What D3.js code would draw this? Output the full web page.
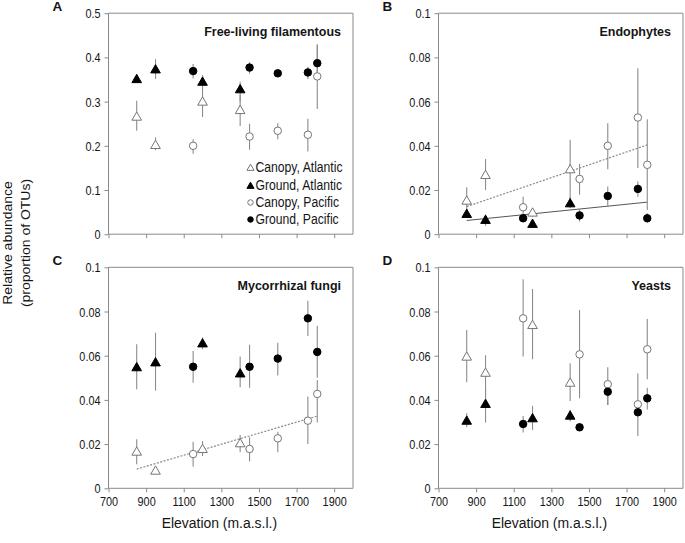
<!DOCTYPE html>
<html>
<head>
<meta charset="utf-8">
<script src="https://cdn.jsdelivr.net/npm/d3@7"></script>
<style>
  html, body { margin: 0; padding: 0; background: #fff; }
  svg text { font-family: "Liberation Sans", Arial, Helvetica, sans-serif; }
</style>
</head>
<body>
<svg id="chart" width="685" height="543"></svg>
<script>
// ---------- data ----------
const elevAtlantic = [850, 950, 1200, 1400];
const elevPacific = [1150, 1450, 1600, 1760, 1810];
const xTicks = [700, 900, 1100, 1300, 1500, 1700, 1900];

// Panel A: Free-living filamentous
const A_canopyAtl = [0.266, 0.202, 0.300, 0.281];
const A_canopyAtlHi = [0.302, 0.219, 0.332, 0.315];
const A_canopyAtlLo = [0.234, 0.190, 0.265, 0.245];
const A_groundAtl = [0.351, 0.373, 0.345, 0.328];
const A_groundAtlHi = [0.358, 0.396, 0.360, 0.345];
const A_groundAtlLo = [0.345, 0.351, 0.330, 0.300];
const A_canopyPac = [0.200, 0.221, 0.234, 0.225, 0.357];
const A_canopyPacHi = [0.215, 0.250, 0.251, 0.261, 0.430];
const A_canopyPacLo = [0.182, 0.191, 0.215, 0.187, 0.283];
const A_groundPac = [0.369, 0.377, 0.364, 0.366, 0.387];
const A_groundPacHi = [0.385, 0.389, 0.370, 0.379, 0.428];
const A_groundPacLo = [0.352, 0.363, 0.358, 0.351, 0.350];

// Panel B: Endophytes
const B_canopyAtl = [0.0152, 0.0268, 0.0098, 0.0294];
const B_canopyAtlHi = [0.0213, 0.0340, 0.0118, 0.0427];
const B_canopyAtlLo = [0.0095, 0.0200, 0.0080, 0.0158];
const B_groundAtl = [0.0092, 0.0065, 0.0047, 0.0140];
const B_groundAtlHi = [0.0115, 0.0090, 0.0068, 0.0167];
const B_groundAtlLo = [0.0075, 0.0038, 0.0030, 0.0118];
const B_canopyPac = [0.0122, 0.0250, 0.0400, 0.0528, 0.0314];
const B_canopyPacHi = [0.0170, 0.0318, 0.0502, 0.0751, 0.0520];
const B_canopyPacLo = [0.0072, 0.0178, 0.0294, 0.0299, 0.0110];
const B_groundPac = [0.0072, 0.0085, 0.0173, 0.0205, 0.0072];
const B_groundPacHi = [0.0082, 0.0113, 0.0216, 0.0238, 0.0095];
const B_groundPacLo = [0.0060, 0.0057, 0.0125, 0.0170, 0.0053];
const B_fitCanopy = [[850, 0.0125], [1810, 0.0404]];
const B_fitGround = [[850, 0.0062], [1810, 0.0145]];

// Panel C: Mycorrhizal fungi
const C_canopyAtl = [0.0166, 0.0080, 0.0178, 0.0204];
const C_canopyAtlHi = [0.0222, 0.0090, 0.0214, 0.0241];
const C_canopyAtlLo = [0.0109, 0.0070, 0.0146, 0.0163];
const C_groundAtl = [0.0548, 0.0570, 0.0656, 0.0520];
const C_groundAtlHi = [0.0652, 0.0704, 0.0683, 0.0596];
const C_groundAtlLo = [0.0448, 0.0442, 0.0629, 0.0457];
const C_canopyPac = [0.0155, 0.0178, 0.0226, 0.0306, 0.0427];
const C_canopyPacHi = [0.0211, 0.0231, 0.0256, 0.0415, 0.0490];
const C_canopyPacLo = [0.0098, 0.0121, 0.0163, 0.0201, 0.0298];
const C_groundPac = [0.0550, 0.0550, 0.0587, 0.0769, 0.0617];
const C_groundPacHi = [0.0621, 0.0649, 0.0659, 0.0849, 0.0735];
const C_groundPacLo = [0.0478, 0.0455, 0.0510, 0.0689, 0.0500];
const C_fitCanopy = [[850, 0.0087], [1810, 0.0327]];

// Panel D: Yeasts
const D_canopyAtl = [0.0596, 0.0523, 0.0739, 0.0478];
const D_canopyAtlHi = [0.0716, 0.0602, 0.0902, 0.0566];
const D_canopyAtlLo = [0.0480, 0.0392, 0.0584, 0.0395];
const D_groundAtl = [0.0306, 0.0382, 0.0317, 0.0329];
const D_groundAtlHi = [0.0340, 0.0460, 0.0373, 0.0354];
const D_groundAtlLo = [0.0276, 0.0297, 0.0264, 0.0302];
const D_canopyPac = [0.0769, 0.0606, 0.0471, 0.0380, 0.0629];
const D_canopyPacHi = [0.0946, 0.0807, 0.0548, 0.0520, 0.0766];
const D_canopyPacLo = [0.0596, 0.0407, 0.0377, 0.0340, 0.0493];
const D_groundPac = [0.0291, 0.0276, 0.0437, 0.0344, 0.0407];
const D_groundPacHi = [0.0327, 0.0285, 0.0468, 0.0400, 0.0455];
const D_groundPacLo = [0.0252, 0.0268, 0.0377, 0.0237, 0.0357];

const legendLabels = ["Canopy, Atlantic", "Ground, Atlantic", "Canopy, Pacific", "Ground, Pacific"];

// ---------- build ----------
function series(elev, v, hi, lo) { return elev.map((e, i) => ({ x: e, y: v[i], hi: hi[i], lo: lo[i] })); }
const fmt01 = d => d === 0 ? "0" : (d === 0.1 ? "0.1" : d3.format(".2f")(d));

const panels = [
  { letter: "A", title: "Free-living filamentous", yMax: 0.5, yTicks: [0, 0.1, 0.2, 0.3, 0.4, 0.5], fmt: d => d === 0 ? "0" : d3.format(".1f")(d),
    x0: 108.5, x1: 353, y0: 234.2, y1: 13.2, xLabels: false, legend: true,
    canopyAtl: series(elevAtlantic, A_canopyAtl, A_canopyAtlHi, A_canopyAtlLo),
    groundAtl: series(elevAtlantic, A_groundAtl, A_groundAtlHi, A_groundAtlLo),
    canopyPac: series(elevPacific, A_canopyPac, A_canopyPacHi, A_canopyPacLo),
    groundPac: series(elevPacific, A_groundPac, A_groundPacHi, A_groundPacLo), fits: [] },
  { letter: "B", title: "Endophytes", yMax: 0.1, yTicks: [0, 0.02, 0.04, 0.06, 0.08, 0.1], fmt: fmt01,
    x0: 438.5, x1: 683, y0: 234.2, y1: 13.2, xLabels: false, legend: false,
    canopyAtl: series(elevAtlantic, B_canopyAtl, B_canopyAtlHi, B_canopyAtlLo),
    groundAtl: series(elevAtlantic, B_groundAtl, B_groundAtlHi, B_groundAtlLo),
    canopyPac: series(elevPacific, B_canopyPac, B_canopyPacHi, B_canopyPacLo),
    groundPac: series(elevPacific, B_groundPac, B_groundPacHi, B_groundPacLo),
    fits: [{ pts: B_fitCanopy, dashed: true }, { pts: B_fitGround, dashed: false }] },
  { letter: "C", title: "Mycorrhizal fungi", yMax: 0.1, yTicks: [0, 0.02, 0.04, 0.06, 0.08, 0.1], fmt: fmt01,
    x0: 108.5, x1: 353, y0: 488.3, y1: 267.3, xLabels: true, legend: false,
    canopyAtl: series(elevAtlantic, C_canopyAtl, C_canopyAtlHi, C_canopyAtlLo),
    groundAtl: series(elevAtlantic, C_groundAtl, C_groundAtlHi, C_groundAtlLo),
    canopyPac: series(elevPacific, C_canopyPac, C_canopyPacHi, C_canopyPacLo),
    groundPac: series(elevPacific, C_groundPac, C_groundPacHi, C_groundPacLo),
    fits: [{ pts: C_fitCanopy, dashed: true }] },
  { letter: "D", title: "Yeasts", yMax: 0.1, yTicks: [0, 0.02, 0.04, 0.06, 0.08, 0.1], fmt: fmt01,
    x0: 438.5, x1: 683, y0: 488.3, y1: 267.3, xLabels: true, legend: false,
    canopyAtl: series(elevAtlantic, D_canopyAtl, D_canopyAtlHi, D_canopyAtlLo),
    groundAtl: series(elevAtlantic, D_groundAtl, D_groundAtlHi, D_groundAtlLo),
    canopyPac: series(elevPacific, D_canopyPac, D_canopyPacHi, D_canopyPacLo),
    groundPac: series(elevPacific, D_groundPac, D_groundPacHi, D_groundPacLo), fits: [] }
];

const svg = d3.select("#chart");
const frameColor = "#8a8a8a";
const barColor = "#8c8c8c";
const openStroke = "#767676";
const txtColor = "#151515";
const triSym = d3.symbol().type(d3.symbolTriangle);
const cirSym = d3.symbol().type(d3.symbolCircle);
const SX = 0.87; // horizontal condensation of the reference's type

// place a horizontally condensed text at (x,y)
function ctext(g, x, y, str, size, opts = {}) {
  const sx = opts.sx || SX;
  return g.append("text")
    .attr("transform", `translate(${x},${y}) scale(${sx},1)`)
    .attr("text-anchor", opts.anchor || "start")
    .attr("font-size", size)
    .attr("font-weight", opts.bold ? "bold" : null)
    .attr("fill", txtColor)
    .text(str);
}

function drawMarker(g, kind, filled, cx, cy, size) {
  const sym = kind === "tri" ? triSym.size(size) : cirSym.size(size);
  g.append("path")
    .attr("d", sym())
    .attr("transform", `translate(${cx},${cy + (kind === "tri" ? 0.8 : 0)})`)
    .attr("fill", filled ? "#000" : "#fff")
    .attr("stroke", filled ? "#000" : openStroke)
    .attr("stroke-width", 1);
}

panels.forEach(p => {
  const x = d3.scaleLinear().domain([700, 2000]).range([p.x0, p.x1]);
  const y = d3.scaleLinear().domain([0, p.yMax]).range([p.y0, p.y1]);
  const g = svg.append("g");

  // frame top & right
  g.append("line").attr("x1", p.x0).attr("x2", p.x1).attr("y1", p.y1).attr("y2", p.y1).attr("stroke", frameColor);
  g.append("line").attr("x1", p.x1).attr("x2", p.x1).attr("y1", p.y1).attr("y2", p.y0).attr("stroke", frameColor);

  // axes (ticks via d3 axes; labels condensed)
  const xAxis = d3.axisBottom(x).tickValues(xTicks).tickSize(4).tickFormat("");
  const gx = g.append("g").attr("transform", `translate(0,${p.y0})`).call(xAxis);
  gx.select(".domain").attr("stroke", frameColor).attr("d", `M${p.x0},0H${p.x1}`);
  gx.selectAll(".tick line").attr("stroke", frameColor);
  if (p.xLabels) {
    gx.selectAll(".tick").each(function(d) {
      ctext(d3.select(this), 0, 18, d3.format("d")(d), 12.5, { anchor: "middle" });
    });
  }

  const yAxis = d3.axisLeft(y).tickValues(p.yTicks).tickSize(4).tickFormat("");
  const gy = g.append("g").attr("transform", `translate(${p.x0},0)`).call(yAxis);
  gy.select(".domain").attr("stroke", frameColor).attr("d", `M0,${p.y0}V${p.y1}`);
  gy.selectAll(".tick line").attr("stroke", frameColor);
  gy.selectAll(".tick").each(function(d) {
    ctext(d3.select(this), -8, 4.5, p.fmt(d), 12.5, { anchor: "end" });
  });

  // letter & title
  ctext(g, p.x0 - 56, p.y1 - 2, p.letter, 13.5, { bold: true, sx: 1 });
  ctext(g, p.x1 - 12, p.y1 + 23, p.title, 12.5, { bold: true, anchor: "end", sx: 1 });

  // fits
  p.fits.forEach(f => {
    g.append("path")
      .attr("d", d3.line().x(d => x(d[0])).y(d => y(d[1]))(f.pts))
      .attr("fill", "none")
      .attr("stroke", f.dashed ? "#8a8a8a" : "#555")
      .attr("stroke-width", f.dashed ? 1.2 : 1)
      .attr("stroke-dasharray", f.dashed ? "2,1.5" : null);
  });

  const groups = [
    { data: p.canopyAtl, kind: "tri", filled: false },
    { data: p.groundAtl, kind: "tri", filled: true },
    { data: p.canopyPac, kind: "cir", filled: false },
    { data: p.groundPac, kind: "cir", filled: true }
  ];
  // error bars
  groups.forEach(s => {
    s.data.forEach(d => {
      g.append("line").attr("x1", x(d.x)).attr("x2", x(d.x)).attr("y1", y(d.hi)).attr("y2", y(d.lo))
        .attr("stroke", barColor).attr("stroke-width", 1.1);
    });
  });
  // markers
  groups.forEach(s => {
    s.data.forEach(d => drawMarker(g, s.kind, s.filled, x(d.x), y(d.y), s.kind === "tri" ? 40 : 44));
  });

  // x label
  if (p.xLabels) {
    ctext(g, (x(700) + x(1900)) / 2 - 2, p.y0 + 40, "Elevation (m.a.s.l.)", 15.5, { anchor: "middle", sx: 0.9 });
  }

  // legend
  if (p.legend) {
    const lx = 250.5, ly = [172, 190, 207, 224];
    groups.forEach((s, i) => {
      drawMarker(g, s.kind, s.filled, lx, ly[i] - 4.5, s.kind === "tri" ? 22 : 24);
      ctext(g, lx + 5, ly[i], legendLabels[i], 14, { sx: 0.87 });
    });
  }
});

// y-axis label (rotated; condensation applies along screen x = text height)
const yl = svg.append("g").attr("transform", "translate(0,243) rotate(-90)");
yl.append("text").attr("transform", "translate(0,12) scale(1,0.88)").attr("text-anchor", "middle").attr("font-size", 14).attr("fill", txtColor).text("Relative abundance");
yl.append("text").attr("transform", "translate(0,30) scale(1,0.88)").attr("text-anchor", "middle").attr("font-size", 14).attr("fill", txtColor).text("(proportion of OTUs)");
</script>
</body>
</html>
